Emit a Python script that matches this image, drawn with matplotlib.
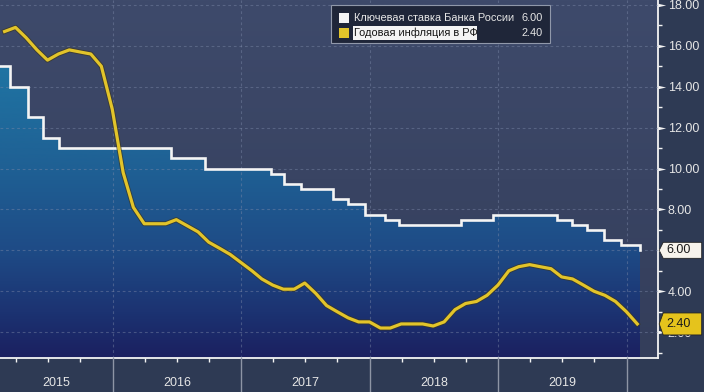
import matplotlib
matplotlib.use('Agg')
import matplotlib.pyplot as plt
import matplotlib.dates as mdates
import matplotlib.transforms as mtrans
import matplotlib.patheffects as pe
from matplotlib.colors import LinearSegmentedColormap
from matplotlib.patches import Polygon, Rectangle
from matplotlib.path import Path
from matplotlib.ticker import MultipleLocator, FormatStrFormatter
import numpy as np
import pandas as pd

plt.rcParams['font.family'] = ['Liberation Sans', 'DejaVu Sans']

# ---------------- data ----------------
rate_dates = ['2015-02-02', '2015-03-16', '2015-05-05', '2015-06-16', '2015-08-03',
              '2016-06-14', '2016-09-19', '2017-03-27', '2017-05-02', '2017-06-19',
              '2017-09-18', '2017-10-30', '2017-12-18', '2018-02-12', '2018-03-26',
              '2018-09-17', '2018-12-17', '2019-06-17', '2019-07-29', '2019-09-09',
              '2019-10-28', '2019-12-16', '2020-02-07']
rate_values = [15.0, 14.0, 12.5, 11.5, 11.0,
               10.5, 10.0, 9.75, 9.25, 9.0,
               8.5, 8.25, 7.75, 7.5, 7.25,
               7.5, 7.75, 7.5, 7.25, 7.0,
               6.5, 6.25, 6.0]

infl_start_month = '2015-02'
infl_values = [16.7, 16.9, 16.4, 15.8, 15.3, 15.6, 15.8, 15.7, 15.6, 15.0, 12.9,
               9.8, 8.1, 7.3, 7.3, 7.3, 7.5, 7.2, 6.9, 6.4, 6.1, 5.8, 5.4,
               5.0, 4.6, 4.3, 4.1, 4.1, 4.4, 3.9, 3.3, 3.0, 2.7, 2.5, 2.5,
               2.2, 2.2, 2.4, 2.4, 2.4, 2.3, 2.5, 3.1, 3.4, 3.5, 3.8, 4.3,
               5.0, 5.2, 5.3, 5.2, 5.1, 4.7, 4.6, 4.3, 4.0, 3.8, 3.5, 3.0,
               2.4]

series_names = ['Ключевая ставка Банка России', 'Годовая инфляция в РФ']
last_values = ['6.00', '2.40']
year_labels = ['2015', '2016', '2017', '2018', '2019']
x_start, x_end = '2015-02-15', '2020-03-29'
y_min, y_max = 0.75, 18.24

# ---------------- styling ----------------
W, H = 704, 392
FIG_BG = '#2e3a54'
WHITE = '#f4f4f4'
YELLOW = '#e2c42a'
TXT = '#e6e6e6'

fig = plt.figure(figsize=(W / 100, H / 100), dpi=100, facecolor=FIG_BG)
ax_w, ax_h = 657.7, 357.7
ax = fig.add_axes([0, (H - ax_h) / H, ax_w / W, ax_h / H])

rd = mdates.date2num(pd.to_datetime(rate_dates))
idates = pd.period_range(infl_start_month, periods=len(infl_values), freq='M').to_timestamp(how='end').normalize()
idn = mdates.date2num(idates)
x0 = mdates.date2num(pd.Timestamp(x_start))
x1 = mdates.date2num(pd.Timestamp(x_end))

# plot background gradient
bg_cmap = LinearSegmentedColormap.from_list('bg', ['#343e5b', '#3e4a6b'])
ax.imshow(np.linspace(0, 1, 256).reshape(-1, 1), extent=[x0, x1, y_min, y_max],
          origin='lower', aspect='auto', cmap=bg_cmap, zorder=0)

# gradient fill under key rate
stops = [(0.75, '#1b2060'), (3.0, '#1c3372'), (6.0, '#1e4b86'), (10.0, '#1f6094'),
         (15.0, '#1f74a3'), (18.24, '#207aa9')]
fill_cmap = LinearSegmentedColormap.from_list(
    'fill', [((v - y_min) / (y_max - y_min), c) for v, c in stops])
poly = ax.fill_between(rd, rate_values, y_min, step='post', facecolor='none',
                       edgecolor='none', zorder=1)
im = ax.imshow(np.linspace(0, 1, 256).reshape(-1, 1), extent=[x0, x1, y_min, y_max],
               origin='lower', aspect='auto', cmap=fill_cmap, zorder=1)
im.set_clip_path(poly.get_paths()[0], transform=ax.transData)

# lines
ax.plot(rd, rate_values, drawstyle='steps-post', color=WHITE, lw=1.9, zorder=4,
        solid_joinstyle='miter')
ax.plot(idn, infl_values, color=YELLOW, lw=2.3, zorder=5,
        path_effects=[pe.withStroke(linewidth=3.6, foreground='#3a3520', alpha=0.7)])

ax.set_xlim(x0, x1)
ax.set_ylim(y_min, y_max)
ax.set_facecolor('none')

# grid
ax.xaxis.set_major_locator(mdates.YearLocator())
ax.xaxis.set_minor_locator(mdates.MonthLocator(bymonth=[4, 7, 10]))
ax.yaxis.set_major_locator(MultipleLocator(2))
ax.yaxis.set_minor_locator(MultipleLocator(1))
ax.set_axisbelow(False)
ax.grid(True, which='major', color='#7c89a8', alpha=0.45, lw=0.8, linestyle=(0, (2.5, 2.5)))

# axes / spines
for s in ['left', 'top']:
    ax.spines[s].set_visible(False)
ax.spines['right'].set_color(WHITE)
ax.spines['right'].set_linewidth(1.3)
ax.spines['bottom'].set_color(WHITE)
ax.spines['bottom'].set_linewidth(1.3)
ax.yaxis.tick_right()
ax.tick_params(axis='y', which='major', length=0, pad=7.2, labelsize=9, labelcolor=TXT)
ax.tick_params(axis='y', which='minor', length=3, width=1, color=WHITE, direction='out')
ax.yaxis.set_major_formatter(FormatStrFormatter('%.2f'))
ax.tick_params(axis='x', which='major', length=0, labelbottom=False)
ax.tick_params(axis='x', which='minor', length=3, width=1, color=WHITE, direction='out')

# wedge-shaped major ticks on the right axis
wedge = Path([(0, -0.22), (1, 0), (0, 0.22), (0, -0.22)],
             [Path.MOVETO, Path.LINETO, Path.LINETO, Path.CLOSEPOLY])
blend = mtrans.blended_transform_factory(ax.transAxes, ax.transData)
yt = np.arange(2, 19, 2)
ax.plot(np.ones_like(yt), yt, linestyle='none', marker=wedge, markersize=11,
        color=WHITE, markeredgewidth=0, transform=blend, clip_on=False, zorder=6)

# bottom band: year separators and labels
blend_x = mtrans.blended_transform_factory(ax.transData, ax.transAxes)
band = (H - ax_h) / ax_h
year_starts = [mdates.date2num(pd.Timestamp(f'{y}-01-01')) for y in range(2016, 2021)]
for xs in year_starts:
    ax.plot([xs, xs], [0, -band], color='#8e95a5', lw=1.0, transform=blend_x,
            clip_on=False, zorder=6)
for lab in year_labels:
    ys = mdates.date2num(pd.Timestamp(f'{lab}-01-01'))
    ye = mdates.date2num(pd.Timestamp(f'{int(lab) + 1}-01-01'))
    xc = (max(ys, x0) + min(ye, x1)) / 2
    ax.text(xc, -(383.5 - ax_h) / ax_h, lab, transform=blend_x, ha='center', va='center',
            color=TXT, fontsize=9, clip_on=False)

# value tags on right axis
fig.canvas.draw()
xr = ax.transAxes.transform((1, 0))[0]
for val, txt, fc, h in [(rate_values[-1], last_values[0], '#f7f3ec', 16),
                        (infl_values[-1], last_values[1], '#e5c31c', 22)]:
    yc = ax.transData.transform((x1, val))[1]
    verts = [(xr + 1.5, yc), (xr + 5.5, yc + h / 2), (xr + 44, yc + h / 2),
             (xr + 44, yc - h / 2), (xr + 5.5, yc - h / 2)]
    fig.add_artist(Polygon(verts, closed=True, facecolor=fc, edgecolor='#222222',
                           lw=0.6, transform=mtrans.IdentityTransform(), zorder=10))
    fig.text(xr + 8.5, yc, txt, transform=mtrans.IdentityTransform(), ha='left',
             va='center', fontsize=9, color='#1a1a1a', zorder=11)

# legend
def P(x, y):
    return (x / W, 1 - y / H)

fig.add_artist(Rectangle(P(331, 43), 219 / W, 38 / H, transform=fig.transFigure,
                         facecolor='#1f2639', edgecolor='#9098aa', lw=0.8, zorder=10))
# highlight behind second entry text
fig.add_artist(Rectangle(P(353, 40), 124 / W, 14 / H, transform=fig.transFigure,
                         facecolor='#f4f4f4', edgecolor='none', zorder=11))
for i, (name, val, col) in enumerate(zip(series_names, last_values, [WHITE, YELLOW])):
    yrow = 18 + 15 * i
    fig.add_artist(Rectangle(P(339, yrow + 5), 9.5 / W, 9.5 / H, transform=fig.transFigure,
                             facecolor=col, edgecolor='none', zorder=12))
    fig.text(*P(354, yrow), name, ha='left', va='center', fontsize=7.9,
             color=TXT if i == 0 else '#151515', zorder=12)
    fig.text(*P(543, yrow), val, ha='right', va='center', fontsize=7.9,
             color=TXT, zorder=12)

fig.savefig('out.png', dpi=100, facecolor=FIG_BG)
